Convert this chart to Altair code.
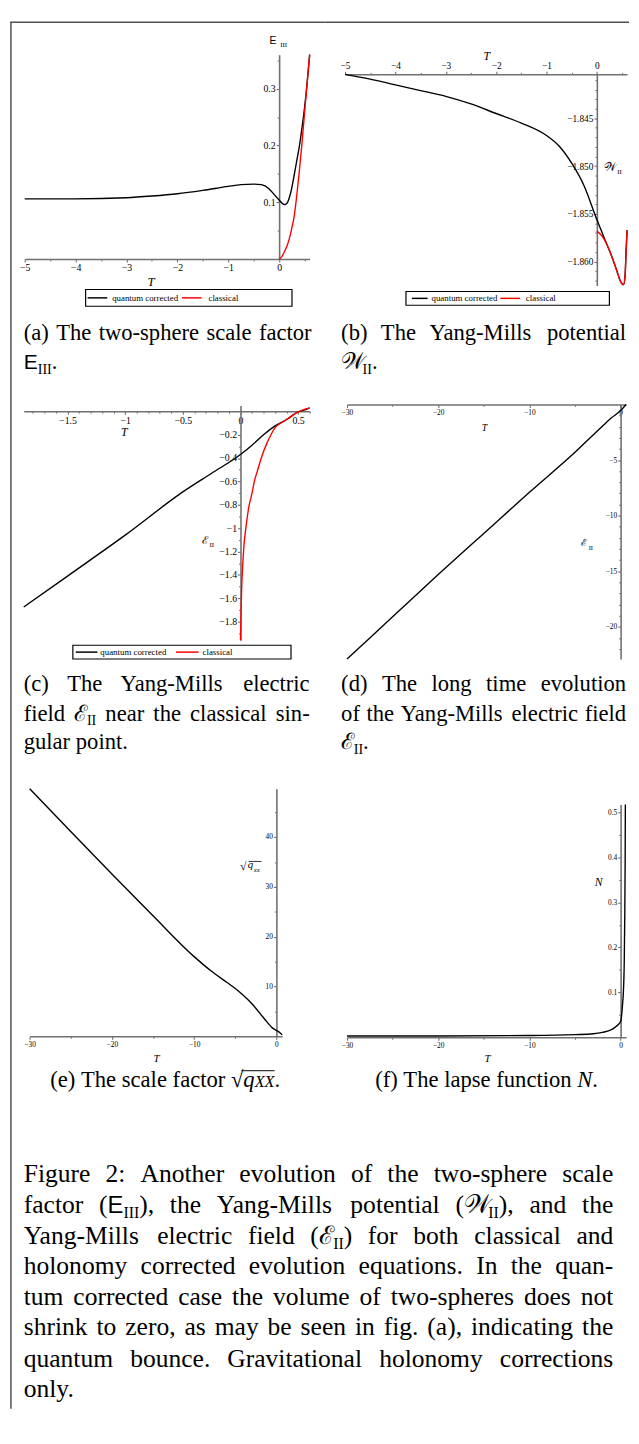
import altair as alt
import pandas as pd

# ------------------------------------------------------------------ data
SERIES = ["quantum corrected", "classical"]
SERIES_COLORS = ["black", "red"]

# (a) two-sphere scale factor E_III
A_T_QUANTUM = [-5, -4, -3, -2.5, -2, -1.5, -1, -0.75, -0.5, -0.35, -0.2, -0.1, 0, 0.05, 0.1, 0.15, 0.2, 0.25, 0.3, 0.35, 0.4, 0.45, 0.5, 0.55, 0.6]
A_E_QUANTUM = [0.106, 0.106, 0.108, 0.111, 0.115, 0.121, 0.128, 0.131, 0.132, 0.131, 0.124, 0.114, 0.104, 0.099, 0.096, 0.098, 0.108, 0.126, 0.150, 0.175, 0.200, 0.232, 0.267, 0.310, 0.360]
A_T_CLASSICAL = [0, 0.05, 0.1, 0.15, 0.2, 0.25, 0.3, 0.35, 0.4, 0.45, 0.5, 0.55, 0.6]
A_E_CLASSICAL = [0, 0.004, 0.012, 0.022, 0.036, 0.055, 0.078, 0.115, 0.158, 0.205, 0.258, 0.310, 0.360]

# (b) Yang-Mills potential W_II
B_T_QUANTUM = [-5, -4.5, -4, -3.5, -3, -2.5, -2, -1.5, -1, -0.75, -0.5, -0.25, 0, 0.1, 0.2, 0.3, 0.4, 0.45, 0.5, 0.53, 0.56, 0.58, 0.6]
B_W_QUANTUM = [-1.8404, -1.8409, -1.8415, -1.8421, -1.8427, -1.8435, -1.8445, -1.8455, -1.8468, -1.8479, -1.8497, -1.8521, -1.8556, -1.8569, -1.8582, -1.8595, -1.8610, -1.8618, -1.8623, -1.8624, -1.8615, -1.8590, -1.8567]
B_T_CLASSICAL = [0, 0.1, 0.2, 0.3, 0.4, 0.45, 0.5, 0.53, 0.56, 0.58, 0.6]
B_W_CLASSICAL = [-1.8568, -1.8573, -1.8582, -1.8595, -1.8610, -1.8618, -1.8623, -1.8624, -1.8615, -1.8590, -1.8567]

# (c) Yang-Mills electric field E_II near the classical singular point
C_T_QUANTUM = [-1.88, -1.5, -1, -0.5, -0.25, 0, 0.1, 0.2, 0.3, 0.4, 0.5, 0.55, 0.6]
C_E_QUANTUM = [-1.675, -1.41, -1.06, -0.69, -0.53, -0.37, -0.29, -0.20, -0.125, -0.07, -0.005, 0.01, 0.03]
C_T_CLASSICAL = [0, 0.005, 0.01, 0.02, 0.03, 0.05, 0.07, 0.1, 0.12, 0.15, 0.18, 0.23, 0.27, 0.3, 0.35, 0.4, 0.5, 0.6]
C_E_CLASSICAL = [-1.96, -1.70, -1.52, -1.30, -1.15, -0.97, -0.83, -0.70, -0.60, -0.50, -0.40, -0.27, -0.19, -0.14, -0.10, -0.07, -0.005, 0.03]

# (d) long time evolution of E_II
D_T = [-30, -25, -20, -15, -10, -5, -2, -1, 0, 0.6]
D_E = [-22.9, -19.1, -15.3, -11.6, -7.9, -4.3, -1.95, -1.2, -0.55, 0.0]

# (e) scale factor sqrt(q_xx)
E_T = [-30, -25, -20, -15, -10, -8, -6, -5, -4, -3, -2, -1, -0.5, 0, 0.3, 0.7]
E_Q = [49.7, 41.1, 32.6, 24.2, 16.0, 13.2, 10.8, 9.6, 8.2, 6.6, 4.6, 2.6, 1.7, 1.2, 0.9, 0.3]

# (f) lapse function N
F_T = [-30, -20, -10, -5, -3, -2, -1, -0.5, 0, 0.2, 0.3, 0.4, 0.45, 0.5, 0.52]
F_N = [0.003, 0.003, 0.004, 0.006, 0.008, 0.011, 0.017, 0.024, 0.035, 0.07, 0.10, 0.17, 0.26, 0.40, 0.518]

# tick values
A_XT = [-5, -4, -3, -2, -1, 0]
A_XM = [-4.5, -3.5, -2.5, -1.5, -0.5, 0.5]
A_YT = [0.1, 0.2, 0.3]
A_YM = [0.05, 0.15, 0.25, 0.35]
B_XT = [-5, -4, -3, -2, -1, 0]
B_XM = [-4.5, -3.5, -2.5, -1.5, -0.5, 0.5]
B_YT = [-1.845, -1.850, -1.855, -1.860]
B_YM = [-1.841, -1.842, -1.843, -1.844, -1.846, -1.847, -1.848, -1.849, -1.851, -1.852, -1.853, -1.854, -1.856, -1.857, -1.858, -1.859, -1.861, -1.862]
C_XT = [-1.5, -1, -0.5, 0, 0.5]
C_XM = [-1.8, -1.7, -1.6, -1.4, -1.3, -1.2, -1.1, -0.9, -0.8, -0.7, -0.6, -0.4, -0.3, -0.2, -0.1, 0.1, 0.2, 0.3, 0.4, 0.6]
C_YT = [-0.2, -0.4, -0.6, -0.8, -1, -1.2, -1.4, -1.6, -1.8]
C_YM = [-0.1, -0.3, -0.5, -0.7, -0.9, -1.1, -1.3, -1.5, -1.7, -1.9]
D_XT = [-30, -20, -10, 0]
D_XM = [-25, -15, -5]
D_YT = [-5, -10, -15, -20]
D_YM = [-1, -2, -3, -4, -6, -7, -8, -9, -11, -12, -13, -14, -16, -17, -18, -19, -21, -22]
E_XT = [-30, -20, -10, 0]
E_XM = [-25, -15, -5]
E_YT = [10, 20, 30, 40]
E_YM = [5, 15, 25, 35, 45]
F_XT = [-30, -20, -10, 0]
F_XM = [-25, -15, -5]
F_YT = [0.1, 0.2, 0.3, 0.4, 0.5]
F_YM = [0.05, 0.15, 0.25, 0.35, 0.45]

# ------------------------------------------------------------------ layout
TOP = 21          # the top border sits above the first row; the view is padded by this much
CELL_W = [320, 303]
RIGHT_EDGE = 310  # right end of the top frame line inside the right column
ROW_H = [362 - TOP, 400, 650]
AXC = "#707070"
BORDER = "#505050"
SUB_FS = 23
MAIN_FS = 26

TIMES = {" ": 250, "(": 333, ")": 333, ",": 250, "-": 333, ".": 250, ":": 278, "√": 549,
         "A": 722, "B": 667, "C": 667, "D": 722, "E": 611, "F": 556, "G": 722, "H": 722, "I": 333,
         "J": 389, "K": 722, "L": 611, "M": 889, "N": 722, "O": 722, "P": 556, "Q": 722, "R": 667,
         "S": 556, "T": 611, "U": 722, "V": 722, "W": 944, "X": 722, "Y": 722, "Z": 611,
         "a": 444, "b": 500, "c": 444, "d": 500, "e": 444, "f": 333, "g": 500, "h": 500, "i": 278,
         "j": 278, "k": 500, "l": 278, "m": 778, "n": 500, "o": 500, "p": 500, "q": 500, "r": 333,
         "s": 389, "t": 278, "u": 500, "v": 500, "w": 722, "x": 500, "y": 500, "z": 444}
TIMES_IT = {"N": 667, "T": 556, "q": 500, "X": 611, "x": 444}
HELV = {"E": 667}
SCR = {"ℰ": 560, "𝒲": 950}
FACT = {"rm": 1.0, "it": 1.0, "sf": 0.93, "sub": 0.62, "scr": 1.0, "itsc": 0.72}
DY = {"rm": 0.0, "it": 0.0, "sf": 0.0, "sub": 0.2, "scr": 0.0, "itsc": 0.0}


def char_w(c, kind):
    if kind in ("rm", "sub"):
        return TIMES.get(c, 500)
    if kind in ("it", "itsc"):
        return TIMES_IT.get(c, TIMES.get(c, 500))
    if kind == "sf":
        return HELV.get(c, 556)
    return SCR.get(c, 700)


def run_w(text, kind, fs):
    return sum(char_w(c, kind) for c in text) / 1000.0 * fs * FACT[kind]


def words(s):
    return [[("rm", w)] for w in s.split(" ") if w]


def line(ws, y, fs, x0, x1=None, mode="left"):
    widths = [sum(run_w(t, k, fs) for k, t in w) for w in ws]
    sp = 0.25 * fs
    nat = sum(widths) + sp * (len(ws) - 1)
    gap = sp
    x = x0
    if mode == "justify" and len(ws) > 1:
        gap = sp + max(0.0, (x1 - x0 - nat) / (len(ws) - 1))
    elif mode == "center":
        x = x0 - nat / 2.0
    runs = []
    for w, wd in zip(ws, widths):
        cx = x
        for k, t in w:
            runs.append(dict(x=cx, y=y + DY[k] * fs, text=t, kind=k, size=fs * FACT[k]))
            cx += run_w(t, k, fs)
        x += wd + gap
    return runs


def px(v, dom, rng):
    return rng[0] + (v - dom[0]) / (dom[1] - dom[0]) * (rng[1] - rng[0])


ONE = pd.DataFrame({"a": [0]})


def rule(x1, y1, x2, y2, color, width):
    return alt.Chart(ONE).mark_rule(color=color, strokeWidth=width).encode(
        x=alt.value(x1), y=alt.value(y1), x2=alt.value(x2), y2=alt.value(y2))


def box(x1, y1, x2, y2):
    return alt.Chart(ONE).mark_rect(fill="white", stroke="black", strokeWidth=1.2).encode(
        x=alt.value(x1), y=alt.value(y1), x2=alt.value(x2), y2=alt.value(y2))


def text_layers(runs, cw, ch):
    groups = [("Liberation Serif", "normal", ("rm", "sub")),
              ("Liberation Serif", "italic", ("it", "itsc")),
              ("Liberation Sans", "normal", ("sf",)),
              ("DejaVu Serif", "normal", ("scr",))]
    out = []
    for font, style, kinds in groups:
        rs = [r for r in runs if r["kind"] in kinds]
        if not rs:
            continue
        df = pd.DataFrame(rs)
        out.append(alt.Chart(df).mark_text(align="left", baseline="alphabetic", font=font,
                                           fontStyle=style, color="black").encode(
            x=alt.X("x:Q", scale=alt.Scale(domain=[0, cw], range=[0, cw], nice=False, zero=False), axis=None),
            y=alt.Y("y:Q", scale=alt.Scale(domain=[0, ch], range=[0, ch], nice=False, zero=False), axis=None),
            text="text:N",
            size=alt.Size("size:Q", scale=None, legend=None)))
    return out


def panel_layers(P, cw, ch):
    xs = alt.Scale(domain=P["xdom"], range=P["xr"], nice=False, zero=False)
    ys = alt.Scale(domain=P["ydom"], range=P["yr"], nice=False, zero=False)
    x0 = px(0, P["xdom"], P["xr"])
    xoff = (P["xaxis_y"] - ch) if P["xorient"] == "bottom" else -P["xaxis_y"]
    yoff = -x0
    common = dict(domainColor=AXC, domainWidth=1.6, tickColor=AXC, tickWidth=1.1,
                  labelFont="Liberation Serif", labelColor="black", labelFontSize=P["lfs"],
                  grid=False, title=None, labelOverlap=False, labelFlush=False, labelPadding=1)
    xaxis = alt.Axis(orient=P["xorient"], offset=xoff, values=P["xt"], format=P["xfmt"], tickSize=3, **common)
    yaxis = alt.Axis(orient="left", offset=yoff, values=P["yt"], format=P["yfmt"], tickSize=3, **common)
    xminor = alt.Axis(orient=P["xorient"], offset=xoff, values=P["xm"], labels=False, domain=False,
                      tickSize=2, tickColor=AXC, tickWidth=1, grid=False, title=None)
    yminor = alt.Axis(orient="left", offset=yoff, values=P["ym"], labels=False, domain=False,
                      tickSize=2, tickColor=AXC, tickWidth=1, grid=False, title=None)
    layers = []
    first_T, first_V, _ = P["series"][0]
    layers.append(alt.Chart(pd.DataFrame({"T": first_T, "v": first_V})).mark_point(opacity=0).encode(
        x=alt.X("T:Q", scale=xs, axis=xminor), y=alt.Y("v:Q", scale=ys, axis=yminor)))
    for i, (T, V, col) in enumerate(P["series"]):
        layers.append(alt.Chart(pd.DataFrame({"T": T, "v": V})).mark_line(
            color=col, strokeWidth=1.4, interpolate="monotone").encode(
            x=alt.X("T:Q", scale=xs, axis=xaxis if i == 0 else None),
            y=alt.Y("v:Q", scale=ys, axis=yaxis if i == 0 else None)))
    return layers


def legend_layers(L, dy=0):
    x1, y1, x2, y2 = L["box"]
    y1 += dy
    y2 += dy
    yc = (y1 + y2) / 2.0
    lay = [box(x1, y1, x2, y2),
           rule(L["black"][0], yc, L["black"][1], yc, SERIES_COLORS[0], 1.5),
           rule(L["red"][0], yc, L["red"][1], yc, SERIES_COLORS[1], 1.5)]
    runs = [dict(x=L["tq"], y=yc + 3, text=SERIES[0], kind="rm", size=9),
            dict(x=L["tc"], y=yc + 3, text=SERIES[1], kind="rm", size=9)]
    return lay, runs


def cell(cw, ch, P=None, runs=(), extra=()):
    layers = []
    if P is not None:
        layers += panel_layers(P, cw, ch)
    layers += list(extra)
    layers += text_layers(list(runs), cw, ch)
    return alt.layer(*layers).resolve_scale(x="independent", y="independent").properties(width=cw, height=ch)


def rt(x, y, text, kind, size):
    return dict(x=x, y=y, text=text, kind=kind, size=size)


def shift(runs, dy):
    return [dict(r, y=r["y"] + dy) for r in runs]


# ------------------------------------------------------------------ panels
PA = dict(xdom=[-5, 0.6], ydom=[0, 0.36], xr=[15, 305], yr=[242 - TOP, 34 - TOP], xaxis_y=242 - TOP, xorient="bottom",
          xt=A_XT, xm=A_XM, yt=A_YT, ym=A_YM, xfmt="d", yfmt=".1f", lfs=10,
          series=[(A_T_QUANTUM, A_E_QUANTUM, "black"), (A_T_CLASSICAL, A_E_CLASSICAL, "red")])
PB = dict(xdom=[-5, 0.6], ydom=[-1.8625, -1.8404], xr=[21, 308], yr=[269 - TOP, 54 - TOP], xaxis_y=54 - TOP,
          xorient="top", xt=B_XT, xm=B_XM, yt=B_YT, ym=B_YM, xfmt="d", yfmt=".3f", lfs=9.5,
          series=[(B_T_QUANTUM, B_W_QUANTUM, "black"), (B_T_CLASSICAL, B_W_CLASSICAL, "red")])
PC = dict(xdom=[-1.88, 0.6], ydom=[-1.96, 0.05], xr=[14, 305], yr=[268, 29], xorient="bottom",
          xt=C_XT, xm=C_XM, yt=C_YT, ym=C_YM, xfmt=".1~f", yfmt=".1~f", lfs=10,
          series=[(C_T_QUANTUM, C_E_QUANTUM, "black"), (C_T_CLASSICAL, C_E_CLASSICAL, "red")])
PC["xaxis_y"] = px(0, PC["ydom"], PC["yr"])
PD = dict(xdom=[-30, 0.6], ydom=[-22.9, 0], xr=[23, 307], yr=[287, 28], xaxis_y=28, xorient="bottom",
          xt=D_XT, xm=D_XM, yt=D_YT, ym=D_YM, xfmt="d", yfmt="d", lfs=7.5,
          series=[(D_T, D_E, "black")])
PE = dict(xdom=[-30, 0.7], ydom=[0, 49.7], xr=[20, 277], yr=[271, 19], xaxis_y=271, xorient="bottom",
          xt=E_XT, xm=E_XM, yt=E_YT, ym=E_YM, xfmt="d", yfmt="d", lfs=7.5,
          series=[(E_T, E_Q, "black")])
PF = dict(xdom=[-30, 0.6], ydom=[0, 0.518], xr=[23, 307], yr=[272, 35], xaxis_y=272, xorient="bottom",
          xt=F_XT, xm=F_XM, yt=F_YT, ym=F_YM, xfmt="d", yfmt=".1f", lfs=7.5,
          series=[(F_T, F_N, "black")])

# ---- cell (a)
legA, legA_runs = legend_layers(dict(box=(77, 273, 287, 290), black=(79, 99), red=(175, 195), tq=104, tc=202), -TOP)
runsA = [
    rt(140, 269, "T", "it", 13),
    rt(264, 23, "E", "sf", 10.5), rt(275, 26, "III", "rm", 7),
]
runsA += line(words("(a) The two-sphere scale factor"), 324, SUB_FS, 14, 307, "justify")
runsA += line([[("sf", "E"), ("sub", "III"), ("rm", ".")]], 354, SUB_FS, 14)
runsA = legA_runs + shift(runsA, -TOP)
cellA = cell(CELL_W[0], ROW_H[0], PA, runsA,
             legA + [rule(0, 1 - TOP, CELL_W[0], 1 - TOP, BORDER, 1.5),
                     rule(1, 1 - TOP, 1, ROW_H[0], BORDER, 1.5)])

# ---- cell (b)
legB, legB_runs = legend_layers(dict(box=(83, 275, 290, 289), black=(89, 105), red=(179, 199), tq=109, tc=205), -TOP)
runsB = [
    rt(162, 39, "T", "it", 12),
    rt(285, 152, "𝒲", "scr", 12), rt(298, 155, "II", "rm", 7),
]
runsB += line(words("(b) The Yang-Mills potential"), 324, SUB_FS, 17, 307, "justify")
runsB += line([[("scr", "𝒲"), ("sub", "II"), ("rm", ".")]], 354, SUB_FS, 17)
runsB = legB_runs + shift(runsB, -TOP)
cellB = cell(CELL_W[1], ROW_H[0], PB, runsB, legB + [rule(0, 1 - TOP, RIGHT_EDGE, 1 - TOP, BORDER, 1.5)])

# ---- cell (c)
legC, legC_runs = legend_layers(dict(box=(64, 273, 286, 287), black=(67, 89), red=(169, 192), tq=92, tc=196))
runsC = legC_runs + [
    rt(113, 60, "T", "it", 12),
    rt(195, 170, "ℰ", "scr", 11), rt(203, 173, "II", "rm", 7),
]
runsC += line(words("(c) The Yang-Mills electric"), 320, SUB_FS, 14, 305, "justify")
runsC += line([[("rm", "field")], [("scr", "ℰ"), ("sub", "II")]] + words("near the classical sin-"),
              350, SUB_FS, 14, 305, "justify")
runsC += line(words("gular point."), 379, SUB_FS, 14)
cellC = cell(CELL_W[0], ROW_H[1], PC, runsC, legC + [rule(1, 0, 1, ROW_H[1], BORDER, 1.5)])

# ---- cell (d)
runsD = [
    rt(160, 55, "T", "it", 10),
    rt(261, 172, "ℰ", "scr", 10), rt(269, 176, "II", "rm", 6.5),
]
runsD += line(words("(d) The long time evolution"), 320, SUB_FS, 17, 307, "justify")
runsD += line(words("of the Yang-Mills electric field"), 350, SUB_FS, 17, 307, "justify")
runsD += line([[("scr", "ℰ"), ("sub", "II"), ("rm", ".")]], 379, SUB_FS, 17)
cellD = cell(CELL_W[1], ROW_H[1], PD, runsD)

# ---- cell (e)
runsE = [
    rt(234, 102, "√", "rm", 12), rt(242, 100, "q", "it", 11), rt(248, 104, "xx", "it", 7),
    rt(146, 297, "T", "it", 11),
]
capE = line(words("(e) The scale factor") + [[("rm", "√"), ("it", "q"), ("itsc", "XX"), ("rm", ".")]],
            323, SUB_FS, 158, None, "center")
runsE += capE
sq = [r for r in capE if r["text"] == "√"][0]
xx = [r for r in capE if r["text"] == "XX"][0]
ov_x1 = sq["x"] + run_w("√", "rm", SUB_FS) * 0.85
ov_x2 = xx["x"] + run_w("XX", "itsc", SUB_FS)
ov_y = 323 - 0.74 * SUB_FS
main_lines = [
    ("Figure 2:  Another evolution of the two-sphere scale", None),
    (None, [[("rm", "factor")], [("rm", "("), ("sf", "E"), ("sub", "III"), ("rm", "),")], [("rm", "the")],
            [("rm", "Yang-Mills")], [("rm", "potential")], [("rm", "("), ("scr", "𝒲"), ("sub", "II"), ("rm", "),")],
            [("rm", "and")], [("rm", "the")]]),
    (None, [[("rm", "Yang-Mills")], [("rm", "electric")], [("rm", "field")],
            [("rm", "("), ("scr", "ℰ"), ("sub", "II"), ("rm", ")")], [("rm", "for")], [("rm", "both")],
            [("rm", "classical")], [("rm", "and")]]),
    ("holonomy corrected evolution equations.  In the quan-", None),
    ("tum corrected case the volume of two-spheres does not", None),
    ("shrink to zero, as may be seen in fig. (a), indicating the", None),
    ("quantum bounce.  Gravitational holonomy corrections", None),
    ("only.", None),
]
MAIN_BASE = [419, 451, 482, 513, 544, 575, 607, 638]
for i, ((s, ws), yb) in enumerate(zip(main_lines, MAIN_BASE)):
    w = words(s) if s is not None else ws
    mode = "left" if i == len(main_lines) - 1 else "justify"
    runsE += line(w, yb, MAIN_FS, 14, 614, mode)
cellE = cell(CELL_W[0], ROW_H[2], PE, runsE,
             [rule(1, 0, 1, ROW_H[2], BORDER, 1.5),
              rule(243, 93, 256, 93, "black", 0.8),
              rule(ov_x1, ov_y, ov_x2, ov_y, "black", 1.0)])

# ---- cell (f)
runsF = [
    rt(275, 118, "N", "it", 12),
    rt(163, 297, "T", "it", 11),
]
runsF += line(words("(f) The lapse function") + [[("it", "N"), ("rm", ".")]], 323, SUB_FS, 165, None, "center")
cellF = cell(CELL_W[1], ROW_H[2], PF, runsF)

chart = alt.concat(
    cellA, cellB, cellC, cellD, cellE, cellF,
    columns=2, spacing=0, bounds="flush", padding=0,
).configure_view(stroke="transparent")

chart.save("out.html", embed_options={"renderer": "svg", "actions": False})
